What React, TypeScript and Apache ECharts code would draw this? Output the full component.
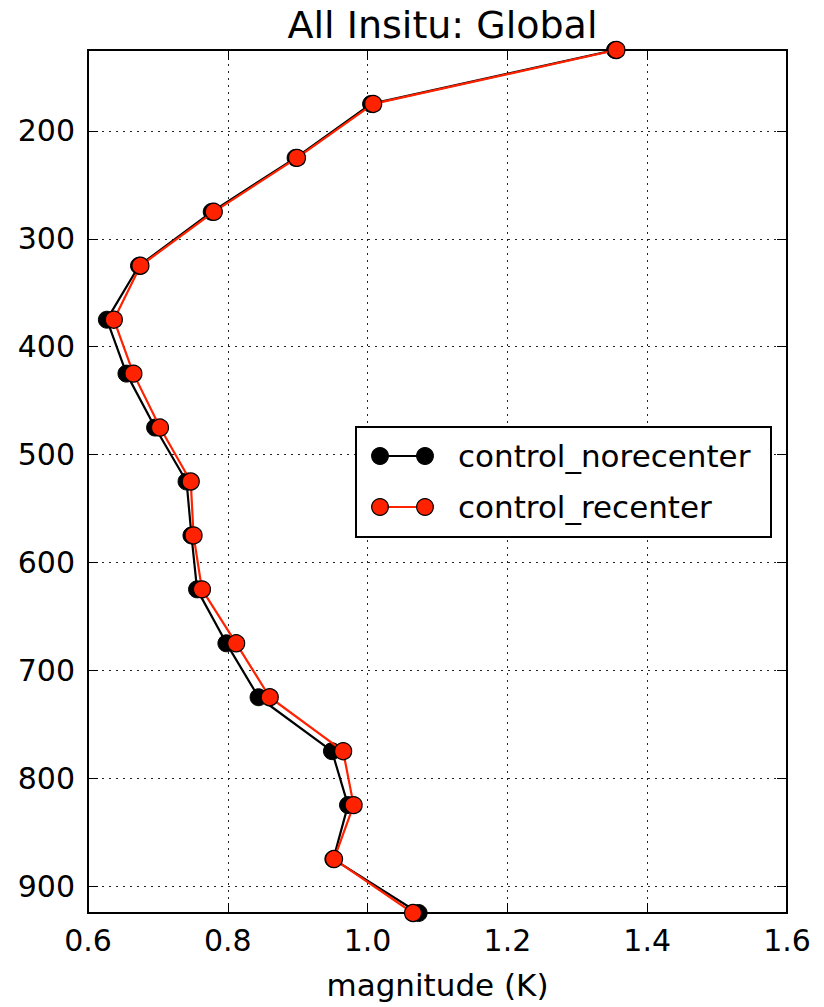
import React, { useEffect, useRef } from "react";
import * as echarts from "echarts";

const titleText = "All Insitu: Global";
const xAxisName = "magnitude (K)";
const seriesNames = ["control_norecenter", "control_recenter"];
const levels = [125, 175, 225, 275, 325, 375, 425, 475, 525, 575, 625, 675, 725, 775, 825, 875, 925];
const norecenter = [1.354, 1.005, 0.897, 0.777, 0.673, 0.627, 0.655, 0.696, 0.741, 0.748, 0.756, 0.798, 0.844, 0.949, 0.972, 0.951, 1.073];
const recenter = [1.356, 1.008, 0.899, 0.780, 0.675, 0.637, 0.665, 0.703, 0.747, 0.751, 0.763, 0.812, 0.860, 0.965, 0.980, 0.952, 1.065];
const xMin = 0.6;
const xMax = 1.6;
const xStep = 0.2;
const yMin = 125;
const yMax = 925;
const yStep = 100;

const FONT = "DejaVu Sans";
const RED = "#ff2200";

export default function App() {
  const ref = useRef<HTMLDivElement>(null);
  useEffect(() => {
    document.body.style.margin = "0";
    if (!ref.current) return;
    const chart = echarts.init(ref.current, null, { renderer: "svg" });
    const grid = { left: 88, right: 37, top: 50, bottom: 94 };
    const gridLine = { show: true, lineStyle: { color: "#222", width: 1, type: [2, 5] as any } };
    const tick = { show: true, inside: true, length: 10, lineStyle: { color: "#000", width: 1 } };
    const axisLine = { show: true, onZero: false, lineStyle: { color: "#000", width: 2 } };
    const xBase = { type: "value" as const, min: xMin, max: xMax, interval: xStep };
    const yBase = { type: "value" as const, min: yMin, max: yMax, minInterval: yStep, maxInterval: yStep, inverse: true };

    const legX = 356, legY = 427, legW = 415, legH = 110;
    const rows = [456, 507];
    const colors = ["#000", RED];
    const legendEls: any[] = [
      { type: "rect", shape: { x: legX, y: legY, width: legW, height: legH }, style: { fill: "#fff", stroke: "#000", lineWidth: 2 }, z: 100 },
    ];
    rows.forEach((ry, i) => {
      legendEls.push({ type: "line", shape: { x1: 380, y1: ry, x2: 425, y2: ry }, style: { stroke: colors[i], lineWidth: 2 }, z: 101 });
      [380, 425].forEach((cx) => {
        legendEls.push({ type: "circle", shape: { cx, cy: ry, r: 8.3 }, style: { fill: colors[i], stroke: "#000", lineWidth: 1.2 }, z: 102 });
      });
      legendEls.push({
        type: "text", x: 458, y: ry, z: 102,
        style: { text: seriesNames[i], fontFamily: FONT, fontSize: 31, fill: "#000", textVerticalAlign: "middle", verticalAlign: "middle" },
      });
    });

    chart.setOption({
      animation: false,
      backgroundColor: "#fff",
      textStyle: { fontFamily: FONT },
      title: {
        text: titleText,
        left: 437.5,
        textAlign: "center",
        top: 1,
        textStyle: { fontFamily: FONT, fontSize: 38, fontWeight: "normal", color: "#000" },
      },
      grid: { ...grid, show: true, borderColor: "#000", borderWidth: 2, backgroundColor: "#fff" },
      xAxis: [
        {
          ...xBase,
          position: "bottom",
          name: xAxisName,
          nameLocation: "middle",
          nameGap: 56,
          nameTextStyle: { fontFamily: FONT, fontSize: 31, color: "#000" },
          axisLine,
          axisTick: tick,
          splitLine: gridLine,
          axisLabel: { fontFamily: FONT, fontSize: 30, color: "#000", margin: 12, formatter: (v: number) => v.toFixed(1) },
        },
        {
          ...xBase,
          position: "top",
          axisLine,
          axisTick: tick,
          splitLine: { show: false },
          axisLabel: { show: false },
        },
      ],
      yAxis: [
        {
          ...yBase,
          position: "left",
          axisLine,
          axisTick: tick,
          splitLine: gridLine,
          axisLabel: { fontFamily: FONT, fontSize: 30, color: "#000", margin: 13, showMinLabel: false, showMaxLabel: false },
        },
        {
          ...yBase,
          position: "right",
          axisLine,
          axisTick: tick,
          splitLine: { show: false },
          axisLabel: { show: false },
        },
      ],
      series: [
        {
          name: seriesNames[0],
          type: "line",
          xAxisIndex: 0,
          yAxisIndex: 0,
          data: levels.map((l, i) => [norecenter[i], l]),
          symbol: "circle",
          symbolSize: 17,
          lineStyle: { color: "#000", width: 2.2 },
          itemStyle: { color: "#000", borderColor: "#000", borderWidth: 1 },
          z: 3,
        },
        {
          name: seriesNames[1],
          type: "line",
          xAxisIndex: 0,
          yAxisIndex: 0,
          data: levels.map((l, i) => [recenter[i], l]),
          symbol: "circle",
          symbolSize: 17,
          lineStyle: { color: RED, width: 2.2 },
          itemStyle: { color: RED, borderColor: "#000", borderWidth: 1.2 },
          z: 4,
        },
      ],
      graphic: legendEls,
    });
    return () => chart.dispose();
  }, []);
  return <div ref={ref} style={{ width: 824, height: 1007 }} />;
}
